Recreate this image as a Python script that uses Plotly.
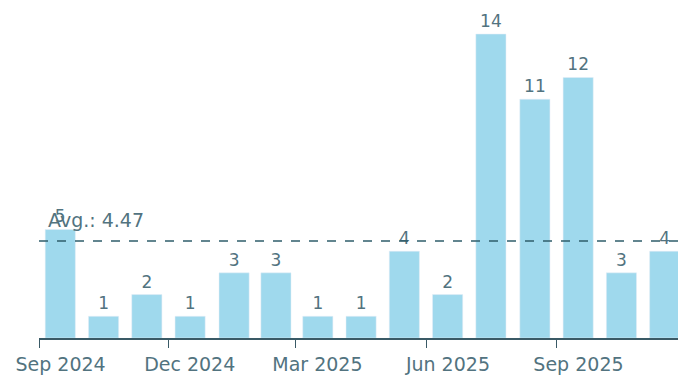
import plotly.graph_objects as go

months = ['2024-09-01', '2024-10-01', '2024-11-01', '2024-12-01', '2025-01-01',
          '2025-02-01', '2025-03-01', '2025-04-01', '2025-05-01', '2025-06-01',
          '2025-07-01', '2025-08-01', '2025-09-01', '2025-10-01', '2025-11-01']
counts = [5, 1, 2, 1, 3, 3, 1, 1, 4, 2, 14, 11, 12, 3, 4]
avg = round(sum(counts) / len(counts), 2)

text_color = '#52737f'
axis_color = '#3a5a66'
font = 'DejaVu Sans'

fig = go.Figure()
fig.add_trace(go.Bar(
    x=months,
    y=counts,
    xperiod='M1',
    xperiodalignment='middle',
    marker_color='#9fd9ed',
    text=counts,
    textposition='outside',
    textfont={'size': 17, 'color': text_color, 'family': font},
    cliponaxis=False,
))

fig.add_hline(y=avg, line_dash='dash', line_color='#2f5d6b', line_width=1.5)
fig.add_annotation(x=0, xref='paper', y=avg, yref='y', text=f'Avg.: {avg}',
                   showarrow=False, xanchor='left', yanchor='bottom',
                   xshift=7, yshift=8,
                   font={'size': 19, 'color': text_color, 'family': font})

# page body adds 8px of margin, so the figure is 8px smaller each way
fig.update_layout(
    width=678, height=370,
    margin={'l': 31, 'r': 0, 't': 0, 'b': 40},
    plot_bgcolor='white',
    paper_bgcolor='white',
    bargap=0.28,
    showlegend=False,
    xaxis={
        'type': 'date',
        'range': ['2024-09-01', '2025-12-01'],
        'dtick': 'M3',
        'tick0': '2024-09-01',
        'tickformat': '%b %Y',
        'ticklabelmode': 'period',
        'ticks': 'outside',
        'ticklen': 8,
        'tickcolor': axis_color,
        'showline': True,
        'linecolor': axis_color,
        'linewidth': 1.5,
        'showgrid': False,
        'automargin': False,
        'tickfont': {'size': 19, 'color': text_color, 'family': font},
    },
    yaxis={
        'range': [0, 15.2],
        'visible': False,
        'showgrid': False,
        'automargin': False,
    },
)

fig.write_html('out.html')
